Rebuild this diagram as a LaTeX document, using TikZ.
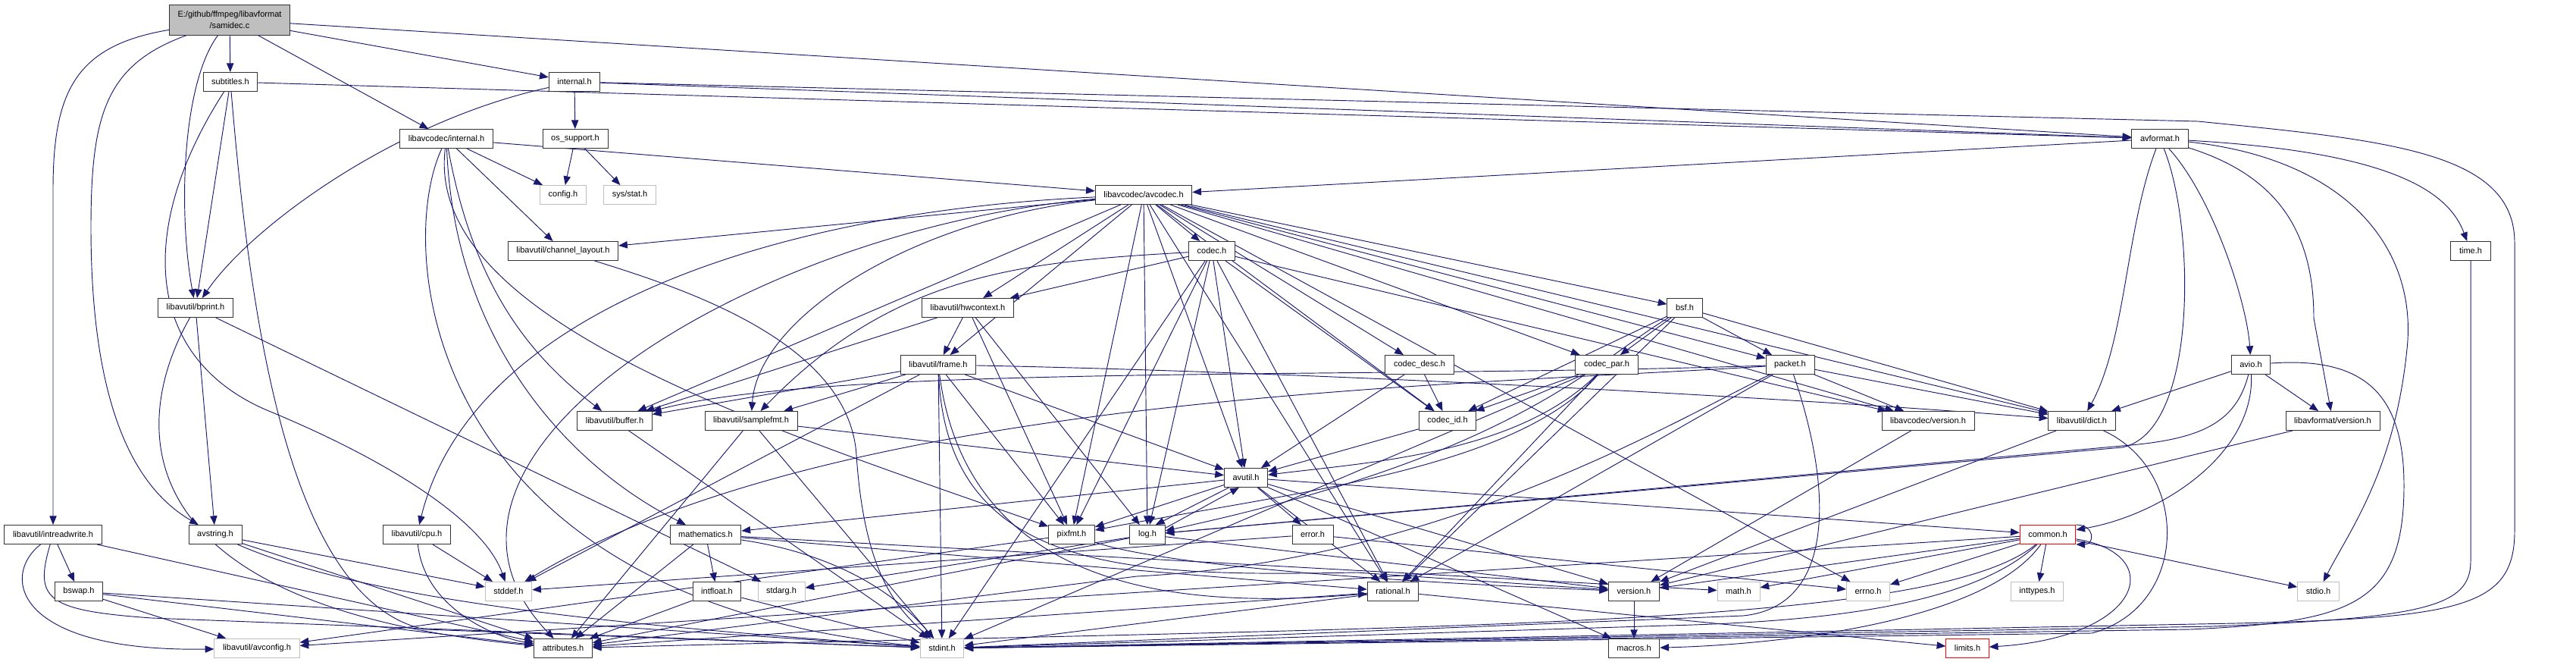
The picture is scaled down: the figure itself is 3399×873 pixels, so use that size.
\documentclass[tikz,border=0pt]{standalone}
\usepackage{fontspec}
\setmainfont{Liberation Sans}
\usetikzlibrary{arrows.meta}
\definecolor{edgeblue}{HTML}{191970}
\definecolor{nodegray}{HTML}{BFBFBF}
\pgfdeclarelayer{edges}
\pgfsetlayers{edges,main}
\tikzset{
  hdr/.style={draw=black!80, fill=white, line width=0.8pt, inner xsep=9.5pt, inner ysep=0pt,
    minimum height=0.75cm, font=\fontsize{9.4}{12.8}\selectfont},
  syshdr/.style={hdr, draw=nodegray},
  cuthdr/.style={hdr, draw=red},
  srcfile/.style={hdr, fill=nodegray, align=center, minimum height=1.2cm},
  dep/.style={-{Triangle[length=10pt,width=8pt]}, draw=edgeblue, line width=0.8pt},
}
\begin{document}
\begin{tikzpicture}[x=0.03cm,y=-0.03cm]
\useasboundingbox (0,0) rectangle (3399,873);
% files
\node[srcfile] (root) at (303,26) {E:/github/ffmpeg/libavformat\\/samidec.c};
\node[hdr] (subtitles) at (304,108) {subtitles.h};
\node[hdr] (internal) at (758,108) {internal.h};
\node[hdr] (lavcint) at (589,183) {libavcodec/internal.h};
\node[hdr] (ossupport) at (759,183) {os\_support.h};
\node[hdr] (avformat) at (2850,183) {avformat.h};
\node[syshdr] (config) at (743,257) {config.h};
\node[syshdr] (sysstat) at (831,257) {sys/stat.h};
\node[hdr] (avcodec) at (1509,257) {libavcodec/avcodec.h};
\node[hdr] (chlayout) at (743,331) {libavutil/channel\_layout.h};
\node[hdr] (codec) at (1599,331) {codec.h};
\node[hdr] (timeh) at (3260,331) {time.h};
\node[hdr] (bprint) at (258,406) {libavutil/bprint.h};
\node[hdr] (hwcontext) at (1277,406) {libavutil/hwcontext.h};
\node[hdr] (bsf) at (2223,406) {bsf.h};
\node[hdr] (frame) at (1238,481) {libavutil/frame.h};
\node[hdr] (codecdesc) at (1873,481) {codec\_desc.h};
\node[hdr] (codecpar) at (2120,481) {codec\_par.h};
\node[hdr] (packet) at (2362,481) {packet.h};
\node[hdr] (avio) at (2970,481) {avio.h};
\node[hdr] (buffer) at (811,555) {libavutil/buffer.h};
\node[hdr] (samplefmt) at (991,555) {libavutil/samplefmt.h};
\node[hdr] (codecid) at (1910,555) {codec\_id.h};
\node[hdr] (lavcver) at (2544,555) {libavcodec/version.h};
\node[hdr] (dict) at (2747,555) {libavutil/dict.h};
\node[hdr] (lavfver) at (3078,555) {libavformat/version.h};
\node[hdr] (avutil) at (1644,630) {avutil.h};
\node[hdr] (intrw) at (70,705) {libavutil/intreadwrite.h};
\node[hdr] (avstring) at (284,705) {avstring.h};
\node[hdr] (cpu) at (550,705) {libavutil/cpu.h};
\node[hdr] (mathem) at (931,705) {mathematics.h};
\node[hdr] (pixfmt) at (1414,705) {pixfmt.h};
\node[hdr] (logh) at (1514,705) {log.h};
\node[hdr] (error) at (1732,705) {error.h};
\node[cuthdr] (common) at (2702,705) {common.h};
\node[hdr] (bswap) at (104,780) {bswap.h};
\node[syshdr] (stddef) at (671,780) {stddef.h};
\node[hdr] (intfloat) at (946,780) {intfloat.h};
\node[syshdr] (stdarg) at (1031,780) {stdarg.h};
\node[hdr] (rational) at (1838,780) {rational.h};
\node[hdr] (version) at (2156,780) {version.h};
\node[syshdr] (mathh) at (2294,780) {math.h};
\node[syshdr] (errno) at (2465,780) {errno.h};
\node[syshdr] (inttypes) at (2688,780) {inttypes.h};
\node[syshdr] (stdio) at (3059,780) {stdio.h};
\node[syshdr] (avconfig) at (339,855) {libavutil/avconfig.h};
\node[hdr] (attributes) at (743,855) {attributes.h};
\node[syshdr] (stdint) at (1243,855) {stdint.h};
\node[hdr] (macros) at (2156,855) {macros.h};
\node[cuthdr] (limits) at (2596,855) {limits.h};

\begin{pgfonlayer}{edges}
% samidec.c
\foreach \dst in {subtitles,lavcint,internal,avformat} \draw[dep] (root) -- (\dst);
\draw[dep] (root) .. controls (100,60) and (70,120) .. (70,250) -- (intrw);
\draw[dep] (root) .. controls (140,85) and (120,150) .. (120,300) .. controls (120,560) and (190,650) .. (avstring);
\draw[dep] (root) .. controls (240,110) and (235,280) .. (bprint);
% libavformat
\foreach \dst in {avformat,bprint} \draw[dep] (subtitles) -- (\dst);
\draw[dep] (subtitles) .. controls (180,300) and (190,470) .. (350,540) .. controls (520,610) and (640,690) .. (stddef);
\draw[dep] (subtitles) .. controls (330,420) and (380,790) .. (560,830) -- (stdint);
\foreach \dst in {ossupport,avformat} \draw[dep] (internal) -- (\dst);
\draw[dep] (internal) .. controls (520,160) and (330,300) .. (bprint);
\draw[dep] (internal) -- (2900,160) .. controls (3150,185) and (3318,200) .. (3318,320) -- (3318,700) .. controls (3318,800) and (3250,815) .. (2950,822) -- (stdint);
\foreach \dst in {config,sysstat} \draw[dep] (ossupport) -- (\dst);
\draw[dep] (avformat) -- (avcodec);
\draw[dep] (avformat) .. controls (3150,200) and (3230,250) .. (timeh);
\draw[dep] (avformat) .. controls (2920,260) and (2965,400) .. (avio);
\draw[dep] (avformat) .. controls (2805,300) and (2805,450) .. (dict);
\draw[dep] (avformat) .. controls (2897,300) and (2900,570) .. (2800,590) -- (logh);
\draw[dep] (avformat) .. controls (3000,230) and (3053,300) .. (3053,420) -- (lavfver);
\draw[dep] (avformat) .. controls (3100,210) and (3190,330) .. (3176,460) .. controls (3160,620) and (3100,700) .. (stdio);
\draw[dep] (timeh) -- (3260,740) .. controls (3260,800) and (3200,815) .. (2920,826) -- (stdint);
\foreach \dst in {dict,lavfver} \draw[dep] (avio) -- (\dst);
\draw[dep] (avio) .. controls (2975,600) and (2850,680) .. (common);
\draw[dep] (avio) .. controls (2950,560) and (2900,580) .. (2800,588) -- (logh);
\draw[dep] (avio) .. controls (3120,470) and (3172,520) .. (3172,640) .. controls (3172,800) and (3100,820) .. (2890,830) -- (stdint);
\draw[dep] (lavfver) -- (version);
% libavcodec
\foreach \dst in {config,chlayout,avcodec} \draw[dep] (lavcint) -- (\dst);
\draw[dep] (lavcint) .. controls (625,380) and (700,470) .. (buffer);
\draw[dep] (lavcint) .. controls (600,460) and (760,620) .. (mathem);
\draw[dep] (lavcint) .. controls (560,420) and (1000,560) .. (pixfmt);
\draw[dep] (lavcint) .. controls (520,330) and (560,790) .. (stdint);
\foreach \dst in {avutil,buffer,chlayout,dict,frame,hwcontext,logh,pixfmt,rational,bsf,codec,codecdesc,codecpar,codecid,packet,lavcver,errno}
  \draw[dep] (avcodec) -- (\dst);
\draw[dep] (avcodec) .. controls (1200,290) and (1000,420) .. (samplefmt);
\draw[dep] (avcodec) .. controls (1000,280) and (620,420) .. (cpu);
\draw[dep] (avcodec) .. controls (1000,300) and (500,600) .. (attributes);
\foreach \dst in {hwcontext,avutil,logh,pixfmt,rational,stdint,codecid,lavcver} \draw[dep] (codec) -- (\dst);
\draw[dep] (codec) .. controls (1350,345) and (1180,360) .. (samplefmt);
\foreach \dst in {dict,rational,codecid,codecpar,packet} \draw[dep] (bsf) -- (\dst);
\draw[dep] (bsf) .. controls (2100,480) and (2000,600) .. (logh);
\foreach \dst in {avutil,codecid} \draw[dep] (codecdesc) -- (\dst);
\draw[dep] (codecid) -- (avutil);
\foreach \dst in {stdint,rational,codecid} \draw[dep] (codecpar) -- (\dst);
\draw[dep] (codecpar) .. controls (2000,600) and (1800,610) .. (avutil);
\draw[dep] (codecpar) .. controls (2000,620) and (1700,650) .. (pixfmt);
\foreach \dst in {dict,rational,lavcver} \draw[dep] (packet) -- (\dst);
\draw[dep] (packet) .. controls (1900,510) and (1100,520) .. (stddef);
\draw[dep] (packet) .. controls (2420,650) and (2420,800) .. (2300,812) -- (stdint);
\draw[dep] (packet) .. controls (2200,560) and (1900,740) .. (1500,760) -- (attributes);
\draw[dep] (packet) .. controls (1800,500) and (1100,480) .. (buffer);
\draw[dep] (lavcver) -- (version);
% libavutil
\draw[dep] (bprint) -- (avstring);
\draw[dep] (bprint) -- (stdarg);
\draw[dep] (bprint) .. controls (170,560) and (160,800) .. (attributes);
\foreach \dst in {stddef,attributes} \draw[dep] (avstring) -- (\dst);
\draw[dep] (avstring) .. controls (500,800) and (900,830) .. (stdint);
\foreach \dst in {bswap,attributes} \draw[dep] (intrw) -- (\dst);
\draw[dep] (intrw) .. controls (0,760) and (20,860) .. (avconfig);
\draw[dep] (intrw) .. controls (45,790) and (60,805) .. (200,815) -- (stdint);
\foreach \dst in {avconfig,attributes,stdint} \draw[dep] (bswap) -- (\dst);
\draw[dep] (cpu) -- (stddef);
\draw[dep] (cpu) .. controls (560,800) and (650,840) .. (attributes);
\foreach \dst in {buffer,frame,logh,pixfmt} \draw[dep] (hwcontext) -- (\dst);
\foreach \dst in {stddef,stdint,avutil,buffer,samplefmt,pixfmt} \draw[dep] (frame) -- (\dst);
\draw[dep] (frame) .. controls (1700,490) and (2300,520) .. (dict);
\draw[dep] (frame) .. controls (1280,800) and (1600,800) .. (rational);
\draw[dep] (frame) .. controls (1250,760) and (1500,760) .. (1790,755) -- (version);
\draw[dep] (chlayout) .. controls (900,380) and (1120,450) .. (1130,600) .. controls (1140,750) and (1180,800) .. (stdint);
\draw[dep] (buffer) -- (stdint);
\foreach \dst in {stdint,avutil,attributes} \draw[dep] (samplefmt) -- (\dst);
\draw[dep] (dict) -- (version);
\draw[dep] (dict) .. controls (2890,620) and (2890,800) .. (2760,835) -- (stdint);
\foreach \dst in {common,error,rational,version,macros,mathem,pixfmt} \draw[dep] (avutil) -- (\dst);
\draw[dep] (avutil.-150) -- (logh.50);
\draw[dep] (logh.20) -- (avutil.-125);
\foreach \dst in {stdarg,attributes,version} \draw[dep] (logh) -- (\dst);
\draw[dep] (pixfmt) -- (avconfig);
\draw[dep] (pixfmt) .. controls (1550,750) and (1900,770) .. (version);
\foreach \dst in {errno,stddef} \draw[dep] (error) -- (\dst);
\foreach \dst in {intfloat,attributes,mathh,rational} \draw[dep] (mathem) -- (\dst);
\draw[dep] (mathem) .. controls (1100,730) and (1180,780) .. (stdint);
\foreach \dst in {stdint,attributes} \draw[dep] (intfloat) -- (\dst);
\foreach \dst in {stdint,limits,attributes} \draw[dep] (rational) -- (\dst);
\draw[dep] (version) -- (macros);
\foreach \dst in {errno,inttypes,mathh,stdio,version,avconfig} \draw[dep] (common) -- (\dst);
\draw[dep] (common) .. controls (2600,800) and (2400,820) .. (2200,825) -- (stdint);
\draw[dep] (common) .. controls (2550,830) and (1900,825) .. (attributes);
\draw[dep] (common) .. controls (2620,820) and (2350,850) .. (macros);
\draw[dep] (common) .. controls (2860,730) and (2830,840) .. (limits);
\draw[dep] (common.north east) .. controls +(25,0) and +(25,0) .. (common.south east);
\end{pgfonlayer}
\end{tikzpicture}
\end{document}
